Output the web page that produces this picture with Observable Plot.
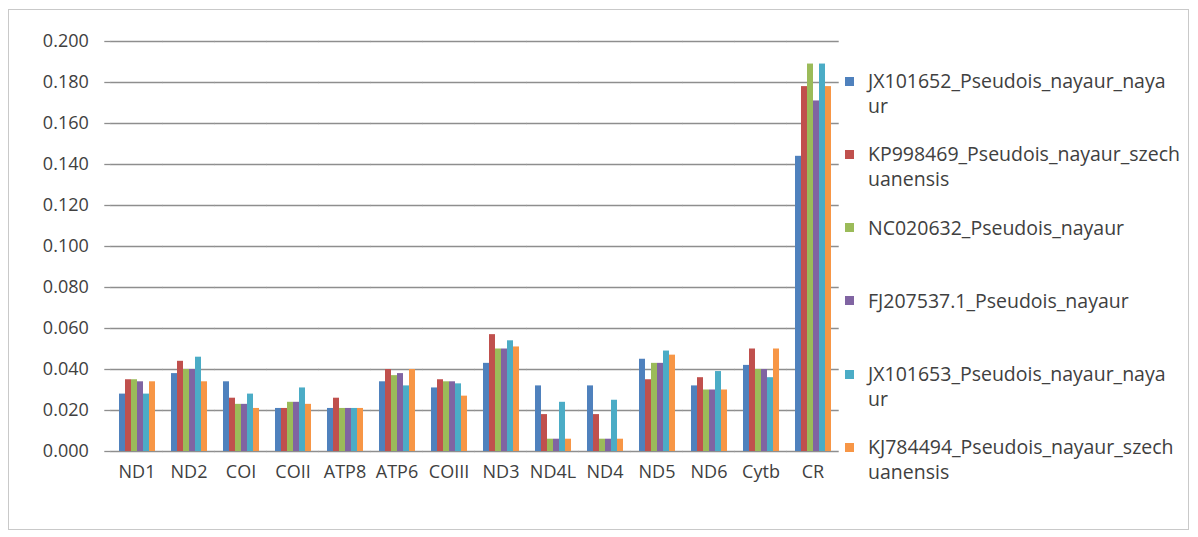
<!DOCTYPE html>
<html>
<head>
<meta charset="utf-8">
<script src="https://cdn.jsdelivr.net/npm/d3@7"></script>
<script src="https://cdn.jsdelivr.net/npm/@observablehq/plot@0.6"></script>
<style>
  html, body { margin: 0; padding: 0; background: #fff; }
  #frame { position: absolute; left: 8px; top: 9px; width: 1181px; height: 521px; border: 1px solid #c9c9c9; box-sizing: border-box; }
  #chart { position: absolute; left: 0; top: 0; }
  #legend { position: absolute; left: 845px; top: 69px; font-family: "Open Sans", sans-serif; font-size: 19.5px; color: #404040; }
  .item { position: relative; height: 73.3px; }
  .sw { position: absolute; left: 0; top: 7.5px; width: 9px; height: 9px; }
  .lbl { position: absolute; left: 23px; top: 0; line-height: 24.5px; white-space: pre; }
</style>
</head>
<body>
<div id="frame"></div>
<div id="chart"></div>
<div id="legend"></div>
<script>
// Genes along the x axis
const genes = ["ND1", "ND2", "COI", "COII", "ATP8", "ATP6", "COIII", "ND3", "ND4L", "ND4", "ND5", "ND6", "Cytb", "CR"];

// Sequences compared (one bar per gene each)
const seriesNames = [
  "JX101652_Pseudois_nayaur_nayaur",
  "KP998469_Pseudois_nayaur_szechuanensis",
  "NC020632_Pseudois_nayaur",
  "FJ207537.1_Pseudois_nayaur",
  "JX101653_Pseudois_nayaur_nayaur",
  "KJ784494_Pseudois_nayaur_szechuanensis"
];
// Legend labels, wrapped onto two lines where they are long
const legendLabels = [
  "JX101652_Pseudois_nayaur_naya\nur",
  "KP998469_Pseudois_nayaur_szech\nuanensis",
  "NC020632_Pseudois_nayaur",
  "FJ207537.1_Pseudois_nayaur",
  "JX101653_Pseudois_nayaur_naya\nur",
  "KJ784494_Pseudois_nayaur_szech\nuanensis"
];
const colors = ["#4F81BD", "#C0504D", "#9BBB59", "#8064A2", "#4BACC6", "#F79646"];

// Values per gene, in the order of `genes`
const JX101652 = [0.028, 0.038, 0.034, 0.021, 0.021, 0.034, 0.031, 0.043, 0.032, 0.032, 0.045, 0.032, 0.042, 0.144];
const KP998469 = [0.035, 0.044, 0.026, 0.021, 0.026, 0.040, 0.035, 0.057, 0.018, 0.018, 0.035, 0.036, 0.050, 0.178];
const NC020632 = [0.035, 0.040, 0.023, 0.024, 0.021, 0.037, 0.034, 0.050, 0.006, 0.006, 0.043, 0.030, 0.040, 0.189];
const FJ207537 = [0.034, 0.040, 0.023, 0.024, 0.021, 0.038, 0.034, 0.050, 0.006, 0.006, 0.043, 0.030, 0.040, 0.171];
const JX101653 = [0.028, 0.046, 0.028, 0.031, 0.021, 0.032, 0.033, 0.054, 0.024, 0.025, 0.049, 0.039, 0.036, 0.189];
const KJ784494 = [0.034, 0.034, 0.021, 0.023, 0.021, 0.040, 0.027, 0.051, 0.006, 0.006, 0.047, 0.030, 0.050, 0.178];

// Y axis tick values
const yTicks = [0, 0.02, 0.04, 0.06, 0.08, 0.10, 0.12, 0.14, 0.16, 0.18, 0.20];

const seriesValues = [JX101652, KP998469, NC020632, FJ207537, JX101653, KJ784494];
const table = genes.flatMap((gene, i) =>
  seriesNames.map((series, j) => ({gene, series, value: seriesValues[j][i]}))
);

// Layout
const W = 840, H = 500, mL = 110, mR = 2, mT = 41, mB = 49;
const padIn = 0.22, padOut = padIn / 2;
const step = (W - mL - mR) / (genes.length - padIn + 2 * padOut);
const band = step * (1 - padIn);   // width of one gene group
const half = step * padIn / 2;     // half the gap between groups
const gridColor = "#8e8e8e";
const textColor = "#404040";
const font = "Open Sans, sans-serif";
const first = () => genes[0];

const chart = Plot.plot({
  width: W, height: H,
  marginLeft: mL, marginRight: mR, marginTop: mT, marginBottom: mB,
  style: {fontFamily: font, background: "transparent"},
  fx: {domain: genes, paddingInner: padIn, paddingOuter: padOut, axis: null},
  x: {domain: seriesNames, padding: 0, axis: null},
  y: {domain: [0, 0.2], axis: null},
  color: {domain: seriesNames, range: colors},
  marks: [
    // horizontal gridlines, bridged across the gaps between groups
    Plot.ruleY(yTicks, {stroke: gridColor, strokeWidth: 1.3, insetLeft: -half, insetRight: -half}),
    // vertical axis line
    Plot.ruleX([genes[0]], {fx: d => d, y1: 0, y2: 0.2, dx: -(band / 2 + half), stroke: gridColor, strokeWidth: 1.3}),
    // y tick marks and labels, drawn left of the first group
    Plot.ruleY(yTicks, {fx: first, y: d => d, insetLeft: -(half + 6), insetRight: band + half, stroke: gridColor, strokeWidth: 1.3}),
    Plot.text(yTicks, {fx: first, y: d => d, text: d3.format(".3f"), frameAnchor: "left", textAnchor: "end",
      dx: -(half + 22), fontSize: 18, fill: textColor}),
    // category boundary ticks on the x axis
    Plot.ruleX(genes, {fx: d => d, y1: 0, y2: 0, insetBottom: -6, dx: -(band / 2 + half), stroke: gridColor, strokeWidth: 1.3}),
    Plot.ruleX([genes[genes.length - 1]], {fx: d => d, y1: 0, y2: 0, insetBottom: -6, dx: band / 2 + half, stroke: gridColor, strokeWidth: 1.3}),
    // bars
    Plot.barY(table, {fx: "gene", x: "series", y: "value", fill: "series"}),
    // gene labels
    Plot.text(genes, {fx: d => d, text: d => d, frameAnchor: "bottom", dy: 26, fontSize: 18, fill: textColor})
  ]
});
document.getElementById("chart").appendChild(chart);

// Legend
const legend = d3.select("#legend");
const items = legend.selectAll("div.item").data(seriesNames).join("div").attr("class", "item");
items.append("div").attr("class", "sw").style("background", (d, i) => colors[i]);
items.append("div").attr("class", "lbl").text((d, i) => legendLabels[i]);
</script>
</body>
</html>
